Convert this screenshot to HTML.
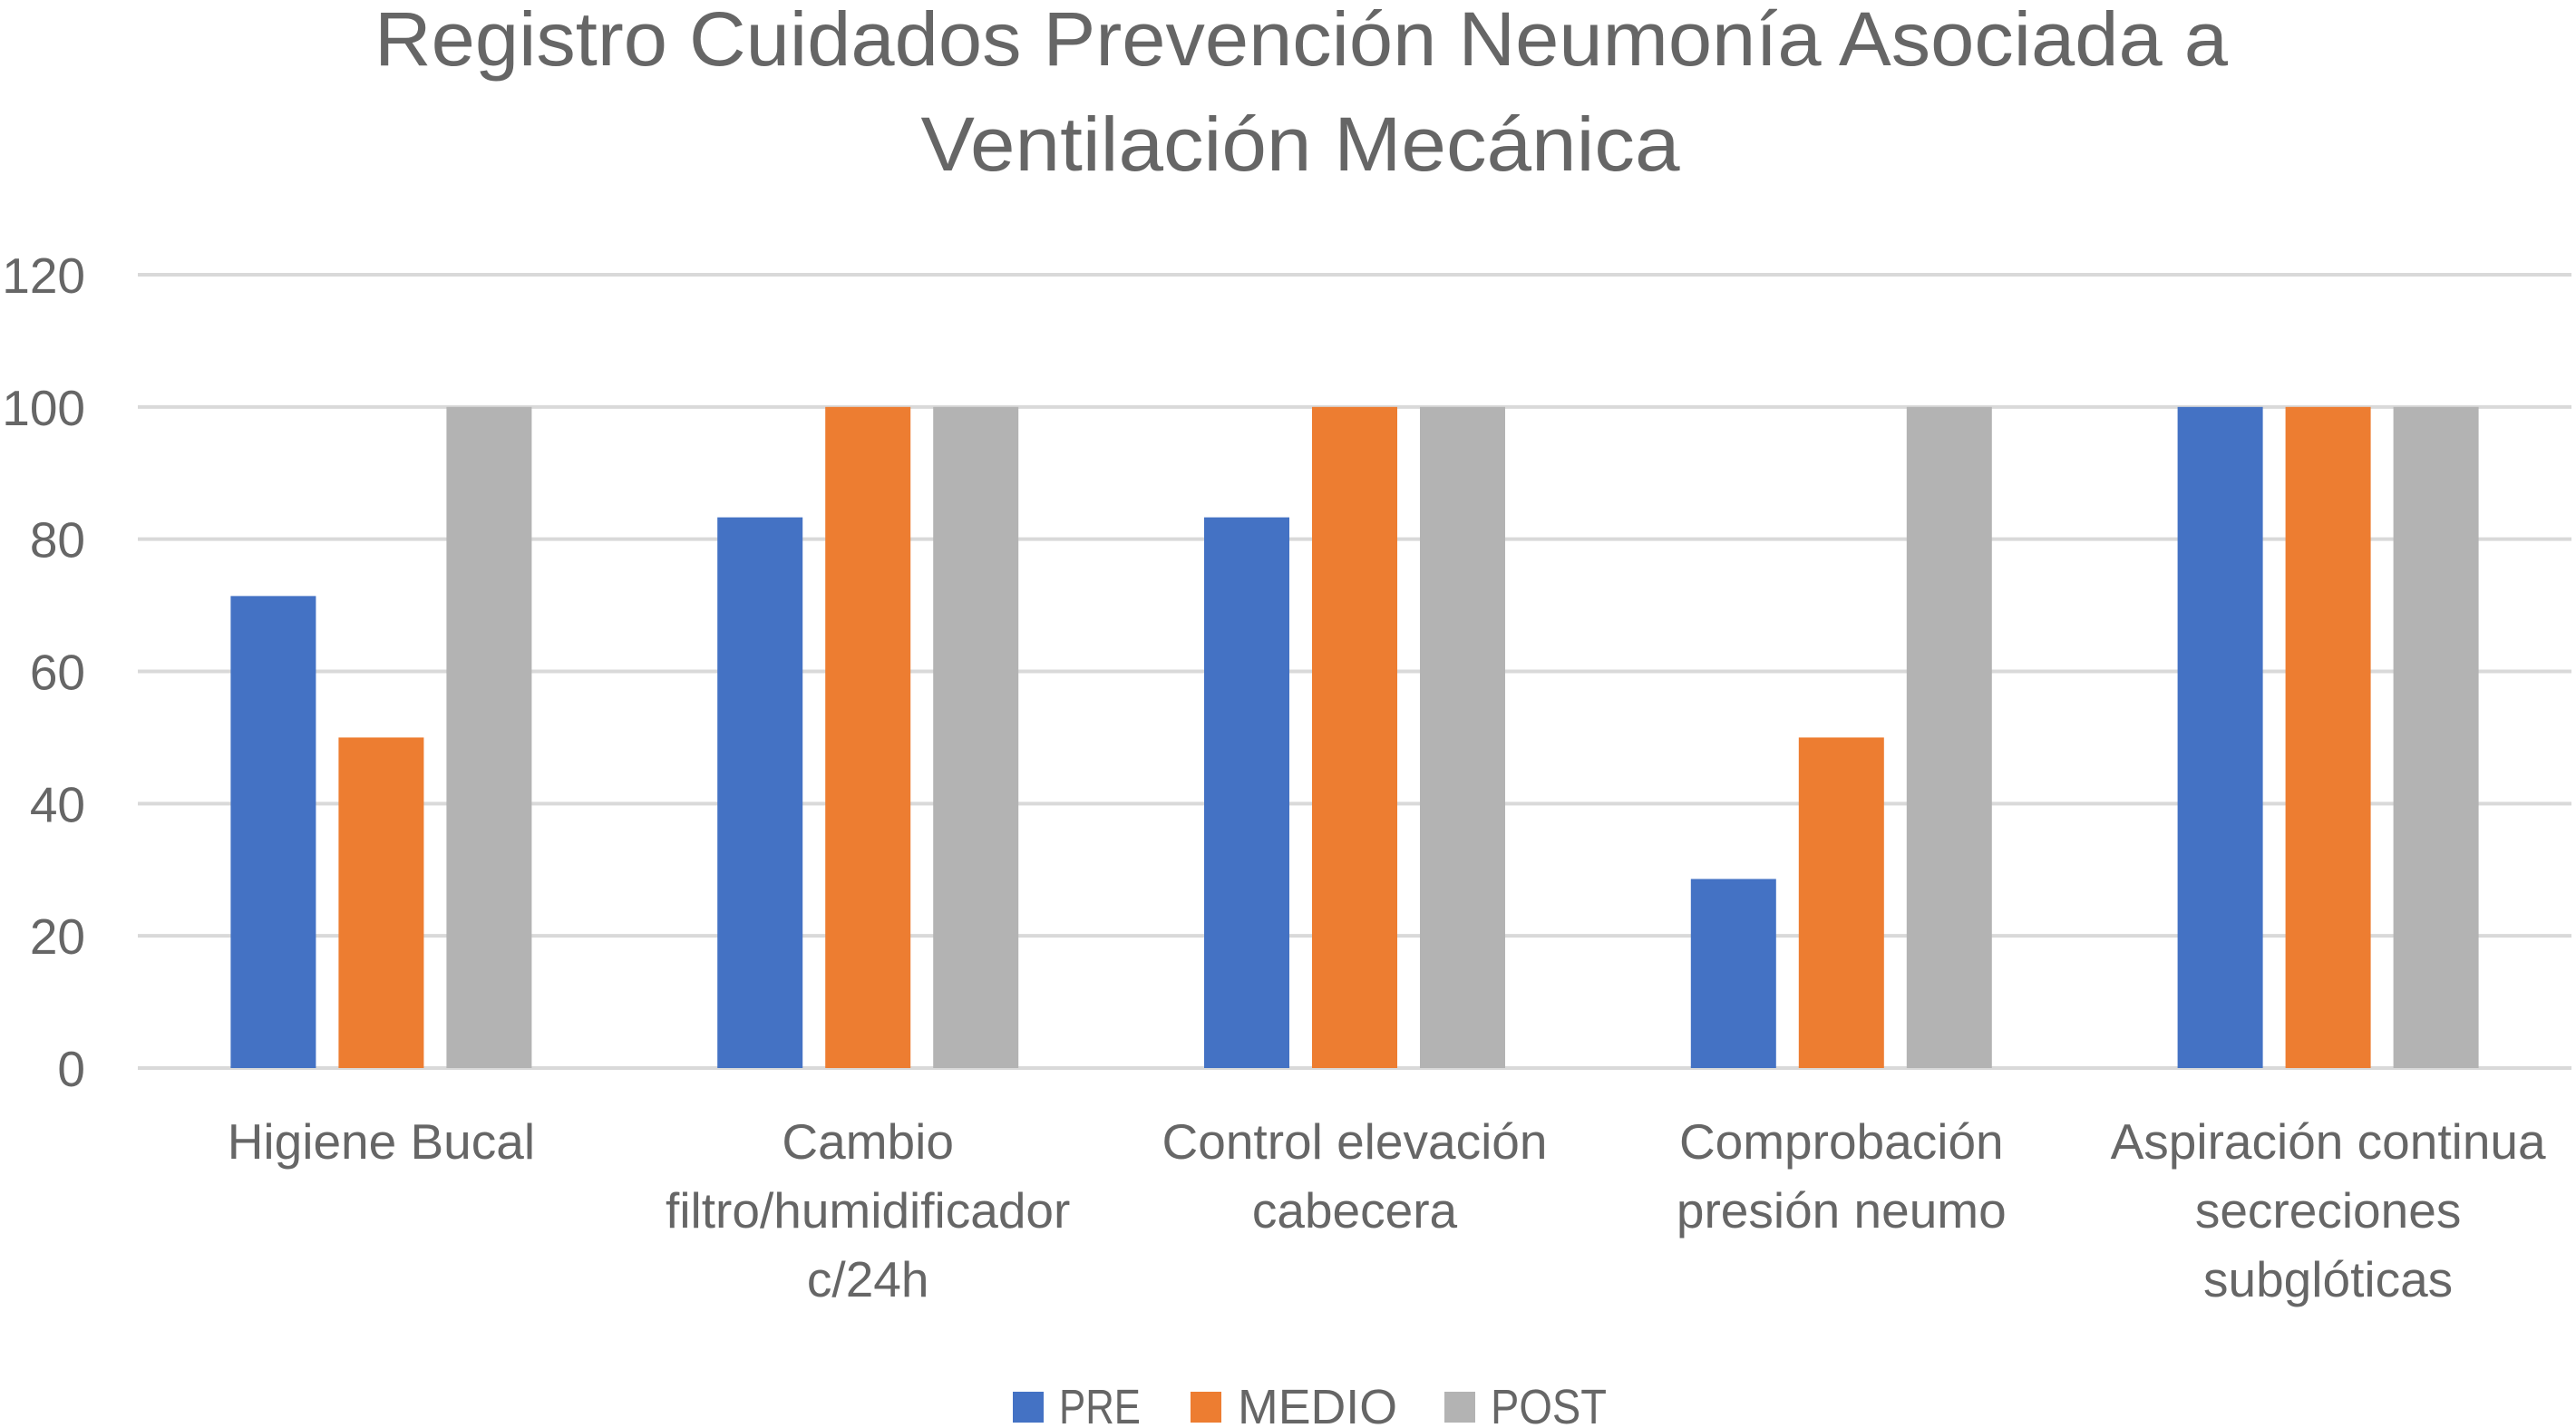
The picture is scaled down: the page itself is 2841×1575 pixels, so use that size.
<!DOCTYPE html>
<html><head><meta charset="utf-8"><style>
html,body{margin:0;padding:0;background:#fff;}
svg{display:block;font-family:"Liberation Sans",sans-serif;}
</style></head><body>
<svg id="chart" width="2841" height="1575" viewBox="0 0 2841 1575" xmlns="http://www.w3.org/2000/svg">
<rect x="0" y="0" width="2841" height="1575" fill="#fff"/>
<g fill="#666" font-size="84" text-anchor="middle">
<text x="1435" y="72" textLength="2044" lengthAdjust="spacingAndGlyphs">Registro Cuidados Prevención Neumonía Asociada a</text>
<text x="1434" y="188" textLength="837" lengthAdjust="spacingAndGlyphs">Ventilación Mecánica</text>
</g>
<g id="grid"></g>
<g id="yticks"></g>
<g id="bars"></g>
<g id="xlabels"></g>
<g font-size="54" fill="#666">
<g><rect x="1117" y="1535" width="34" height="34" fill="#4472C4"/><text x="1168" y="1570" textLength="90" lengthAdjust="spacingAndGlyphs">PRE</text></g>
<g><rect x="1313" y="1535" width="34" height="34" fill="#ED7D31"/><text x="1365" y="1570" textLength="176" lengthAdjust="spacingAndGlyphs">MEDIO</text></g>
<g><rect x="1593" y="1535" width="34" height="34" fill="#B3B3B3"/><text x="1644" y="1570" textLength="128" lengthAdjust="spacingAndGlyphs">POST</text></g>
</g>
</svg>
<script>
const categories = [
  ["Higiene Bucal"],
  ["Cambio","filtro/humidificador","c/24h"],
  ["Control elevación","cabecera"],
  ["Comprobación","presión neumo"],
  ["Aspiración continua","secreciones","subglóticas"]
];
const preValues = [71.4, 83.3, 83.3, 28.6, 100];
const medioValues = [50, 100, 100, 50, 100];
const postValues = [100, 100, 100, 100, 100];
const yTicks = [0, 20, 40, 60, 80, 100, 120];

const NS = "http://www.w3.org/2000/svg";
const plotL = 152, plotR = 2836, plotTop = 303, plotBot = 1178, yMax = 120;
const catW = (plotR - plotL) / categories.length;
const barW = 94, barGap = 25;
function yScale(v){ return plotBot - (v / yMax) * (plotBot - plotTop); }
function xCenter(i){ return plotL + catW * (i + 0.5); }
function mk(tag, attrs, parent){ const e = document.createElementNS(NS, tag); for (const k in attrs) e.setAttribute(k, attrs[k]); parent.appendChild(e); return e; }

const grid = document.getElementById('grid');
const yt = document.getElementById('yticks');
yTicks.forEach(t => {
  const y = yScale(t);
  const l = mk('line', {x1: plotL, x2: plotR, y1: y, y2: y, stroke: '#D9D9D9', 'stroke-width': 4}, grid);
  
  
  const tx = mk('text', {x: 94, y: y + 20, 'text-anchor': 'end', 'font-size': 55, fill: '#666'}, yt);
  tx.textContent = t;
  
  
});

const bars = document.getElementById('bars');
const series = [["pre", preValues, "#4472C4"], ["medio", medioValues, "#ED7D31"], ["post", postValues, "#B3B3B3"]];
categories.forEach((c, i) => {
  const total = 3 * barW + 2 * barGap;
  const x0 = xCenter(i) - total / 2;
  series.forEach((s, j) => {
    const v = s[1][i];
    const r = mk('rect', {x: x0 + j * (barW + barGap), y: yScale(v), width: barW, height: plotBot - yScale(v), fill: s[2]}, bars);
    
    
  });
});

const xl = document.getElementById('xlabels');
categories.forEach((lines, i) => {
  const t = mk('text', {x: xCenter(i), y: 1278, 'text-anchor': 'middle', 'font-size': 55, fill: '#666'}, xl);
  
  
  lines.forEach((ln, k) => {
    const ts = mk('tspan', {x: xCenter(i), y: 1278 + k * 76}, t);
    ts.textContent = ln;
  });
});
</script>
</body></html>
